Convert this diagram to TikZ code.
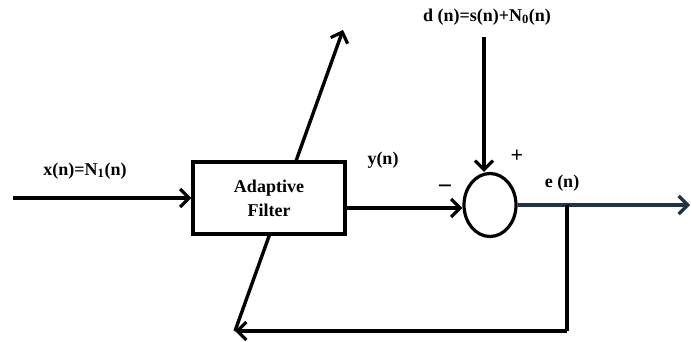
\documentclass[tikz,border=0pt]{standalone}
\usepackage{fontspec}
\setmainfont{Liberation Serif}
\usetikzlibrary{arrows.meta,shapes.geometric}
\definecolor{outc}{RGB}{30,52,72}
\tikzset{
  wire/.style={line width=3.4pt,-{Straight Barb[length=9pt,width=18pt,line width=3.2pt]}},
  plain/.style={line width=3.4pt},
  lbl/.style={font=\bfseries\fontsize{18}{20}\selectfont,inner sep=0pt},
}
\begin{document}
\begin{tikzpicture}[x=1pt,y=-1pt]
\useasboundingbox (0,0) rectangle (691,342);
% diagonal adaptation arrow (behind box)
\coordinate (fbend) at (235,331);
\coordinate (diagtip) at (343,30);
\draw[wire] (fbend) -- (diagtip);
% filter box
\node[draw,fill=white,line width=3.2pt,minimum width=152pt,minimum height=72pt,
      align=center,font=\bfseries\fontsize{18}{24}\selectfont] (filter) at (269,198) {Adaptive\\Filter};
% summing junction
\node[draw,ellipse,line width=3.2pt,minimum width=52pt,minimum height=63pt,inner sep=0pt] (sum) at (490,205) {};
% input
\coordinate (xin) at (13,198);
\draw[wire] (xin) -- (filter.west);
\node[lbl] (xlbl) at (85,171) {x(n)=N\textsubscript{1}(n)};
% filter output to sum
\draw[wire] (filter.east |- 0,208) -- (sum.west |- 0,208);
\node[lbl] (ylbl) at (383,160) {y(n)};
\node[lbl,font=\bfseries\fontsize{26}{26}\selectfont] (minus) at (445,190) {\textminus};
% desired signal
\coordinate (din) at (484,37);
\draw[wire] (din) -- (din |- sum.north);
\node[lbl] (dlbl) at (487,17) {d (n)=s(n)+N\textsubscript{0}(n)};
\node[lbl,font=\bfseries\fontsize{22}{22}\selectfont] (plus) at (517,156) {+};
% error output
\coordinate (eout) at (690,205);
\draw[wire,draw=outc] (sum.east) -- (eout);
\node[lbl] (elbl) at (562,183) {e (n)};
% feedback
\coordinate (tap) at (567,205);
\coordinate (corner) at (567,331);
\draw[plain] (tap) -- (corner);
\draw[wire] (corner) -- (fbend);
\end{tikzpicture}
\end{document}
